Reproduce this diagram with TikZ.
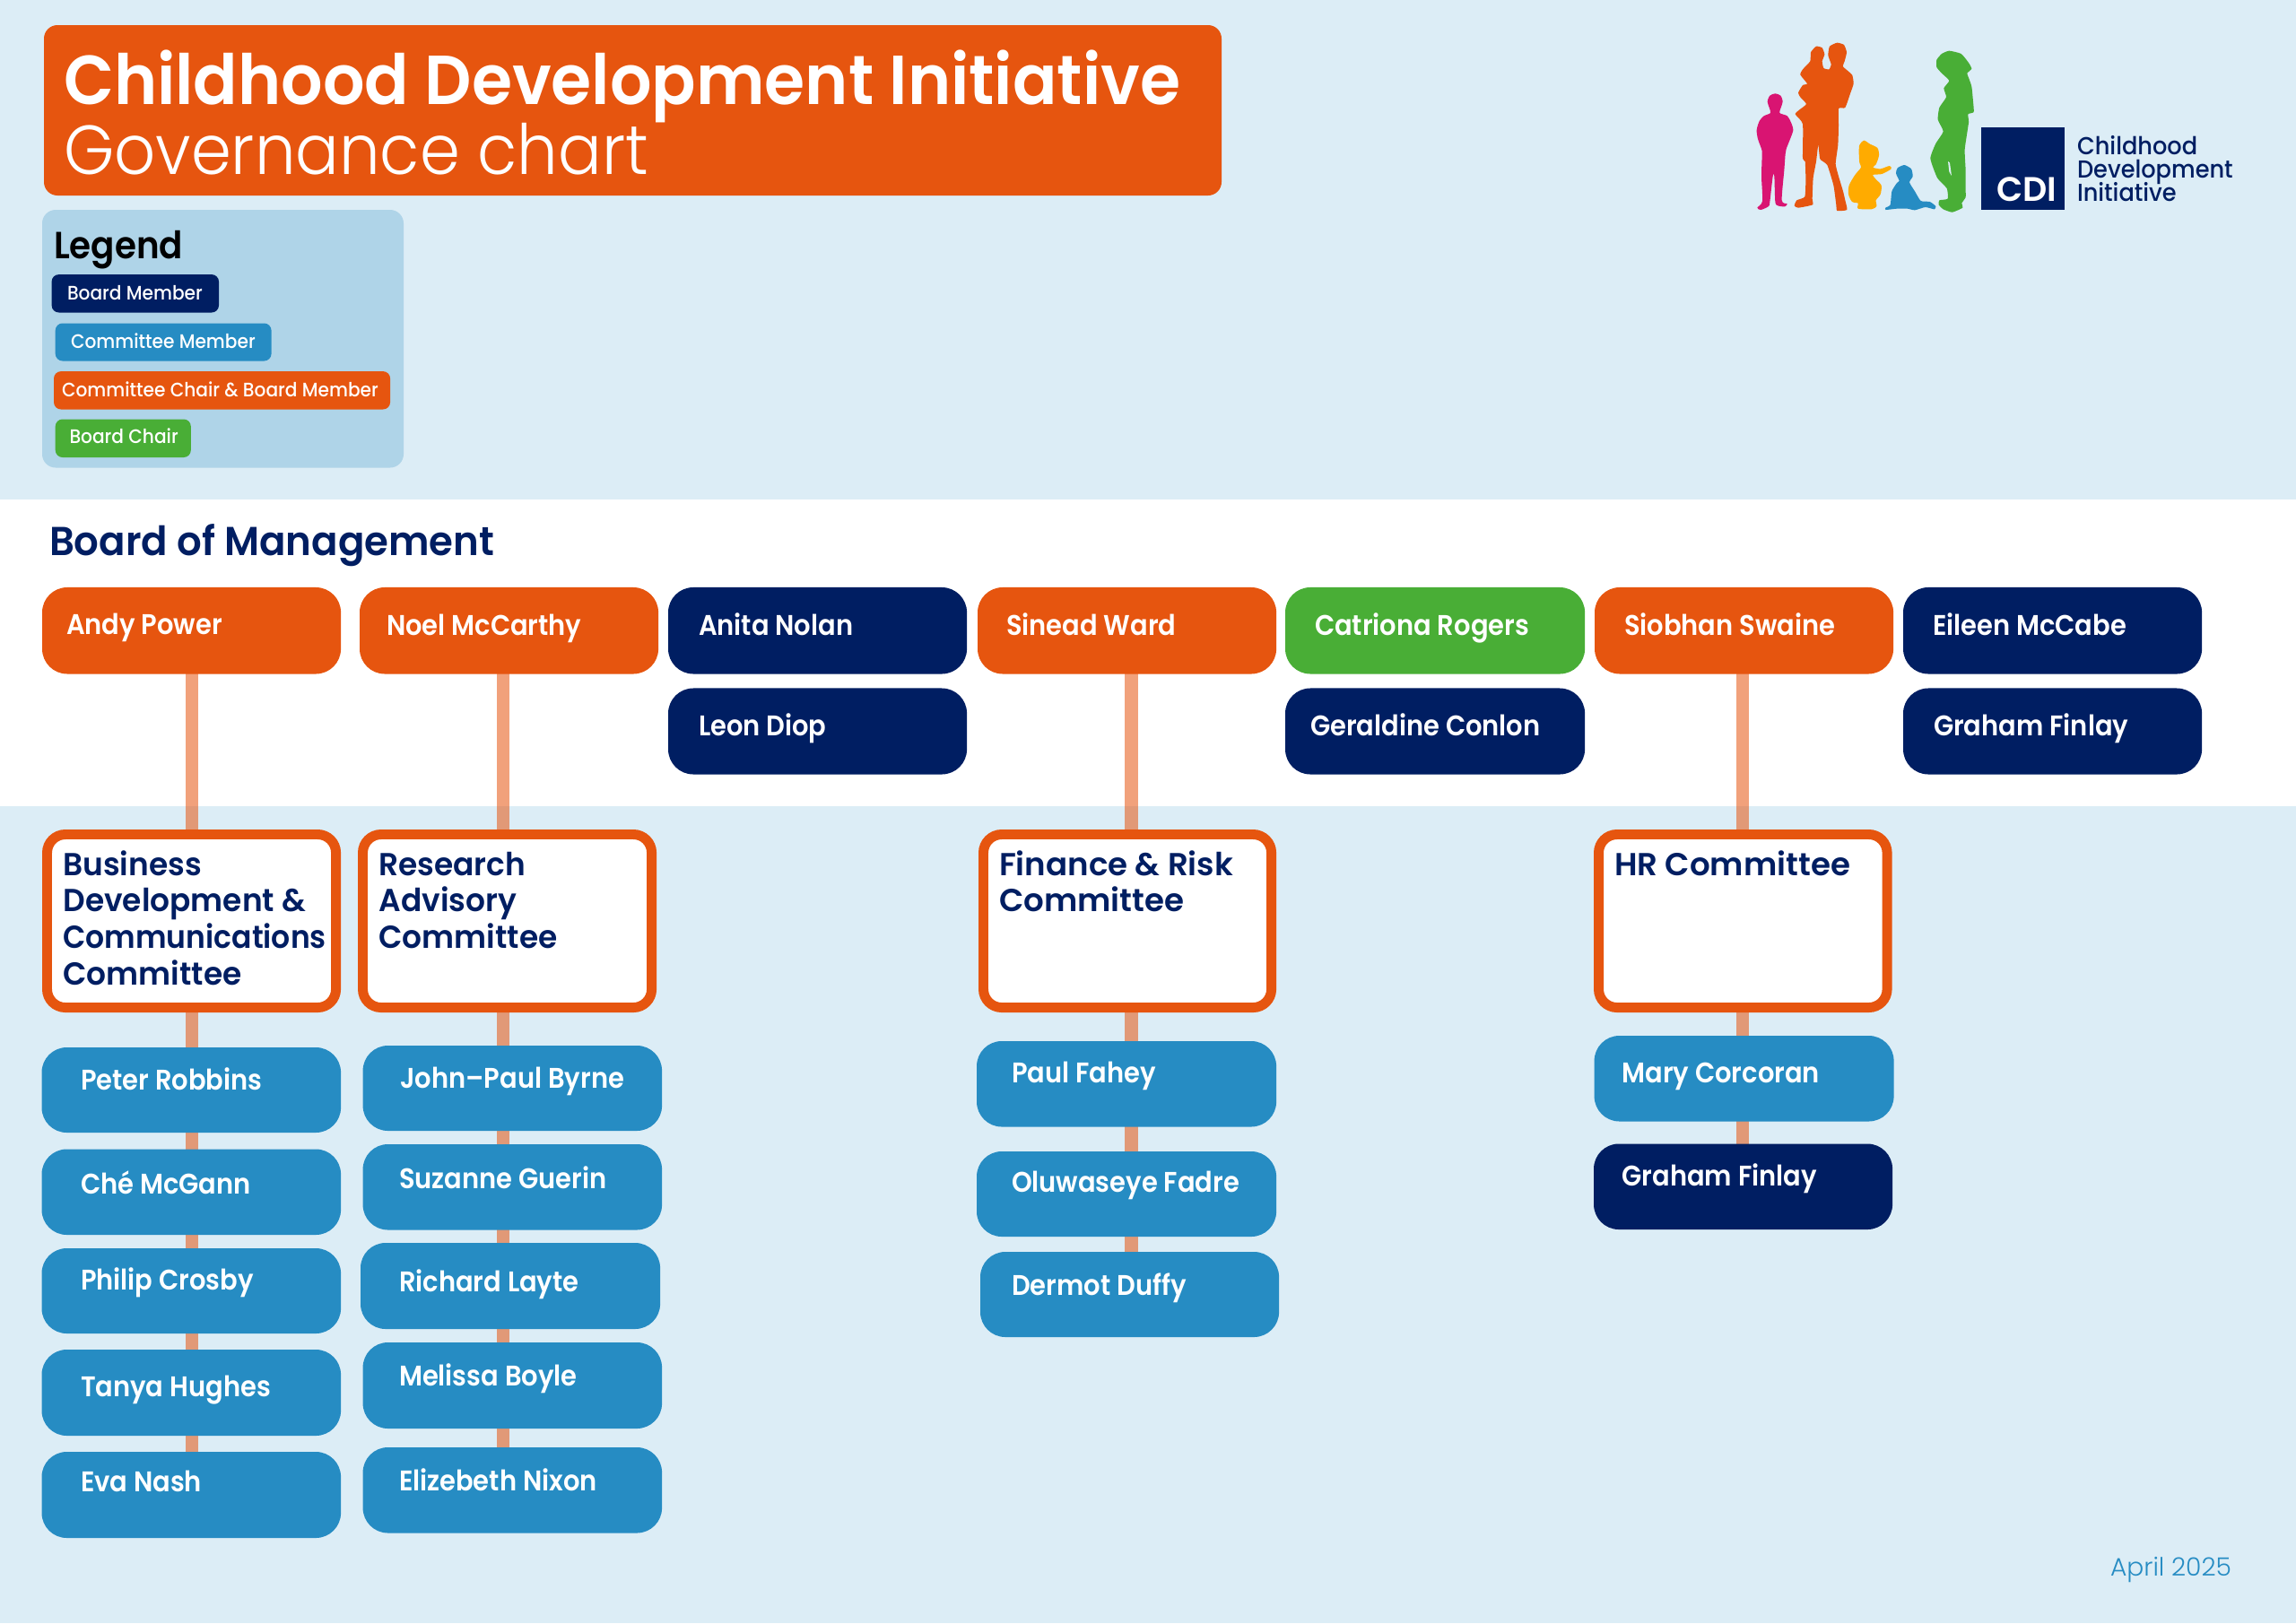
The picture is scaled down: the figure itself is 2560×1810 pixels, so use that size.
\documentclass[tikz,border=0pt]{standalone}
\usepackage{graphicx}
\usepackage{fontspec}
\setmainfont{Poppins}
\newfontfamily\fname{Poppins SemiBold}[FakeStretch=0.915]
\newfontfamily\fpill{Poppins Medium}[FakeStretch=0.925]
\newfontfamily\fcom{Poppins SemiBold}[FakeStretch=0.97]
\newfontfamily\fcomw{Poppins SemiBold}[FakeStretch=1.005]
\newfontfamily\ftitle{Poppins SemiBold}[FakeStretch=0.944]
\newfontfamily\fsub{Poppins Light}[FakeStretch=0.932]
\newfontfamily\fleg{Poppins SemiBold}[FakeStretch=0.92]
\newfontfamily\fhead{Poppins SemiBold}[FakeStretch=0.965]
\newfontfamily\flogo{Poppins Medium}[FakeStretch=0.935]
\newfontfamily\fcdi{Poppins SemiBold}
\newfontfamily\flight{Poppins Light}
\definecolor{bgblue}{HTML}{DCEDF6}
\definecolor{panel}{HTML}{AFD4E8}
\definecolor{cdiorange}{HTML}{E6550F}
\definecolor{cdinavy}{HTML}{001E62}
\definecolor{cdiblue}{HTML}{268CC3}
\definecolor{cdigreen}{HTML}{49AE36}
\definecolor{cdiyellow}{HTML}{FFAB00}
\definecolor{cdipink}{HTML}{D91472}
\pgfdeclarelayer{back}
\pgfsetlayers{back,main}
\tikzset{
  box/.style={rectangle,rounded corners=19.9pt,inner sep=0pt,outer sep=0pt,anchor=base west,text=white,align=left},
  navybox/.style={box,fill=cdinavy},
  bluebox/.style={box,fill=cdiblue},
  orangebox/.style={box,fill=cdiorange},
  greenbox/.style={box,fill=cdigreen},
  pill/.style={rounded corners=5.7pt},
  committee/.style={box,fill=white,draw=cdiorange,line width=7.8pt,rounded corners=14.5pt,text=cdinavy},
  link/.style={draw=cdiorange,opacity=.55,line width=10.2pt},
  free/.style={inner sep=0pt,outer sep=0pt,anchor=base west},
}
% style, name, x0, y0, x1, y1, text x, baseline, font, text
\newcommand{\yo}{0}
\newcommand{\bx}[9]{%
  \pgfmathsetlengthmacro\bxh{(#8-#4)*0.71132pt}%
  \pgfmathsetlengthmacro\bxd{(#6-#8)*0.71132pt}%
  \pgfmathsetlengthmacro\bxw{(#5-#3)*0.71132pt}%
  \pgfmathsetlengthmacro\bxp{(#7-#3)*0.71132pt}%
  \pgfmathsetmacro\bxy{#8+\yo}%
  \bxfin{#1}{#2}{#3}{\bxy}#9}
\newcommand{\bxfin}[6]{%
  \node[#1,text height=\bxh,text depth=\bxd] (#2) at (#3,#4) {\makebox[\bxw][l]{\hspace*{\bxp}#5#6}};}
\newcommand{\namef}{\fontsize{22.5}{22.5}\fname}
\newcommand{\pillf}{\fontsize{15.5}{15.5}\fpill}
\newcommand{\comf}{\fontsize{25.2}{28.9}\fcom}
\newcommand{\comwf}{\fontsize{25.2}{28.9}\fcomw}
\newcommand{\lines}[1]{\vtop{\hsize=300pt\baselineskip=28.95pt\lineskip=0pt\lineskiplimit=-100pt\parindent=0pt #1}}
\begin{document}
\begin{tikzpicture}[x=0.025cm,y=-0.025cm]
\useasboundingbox (0,0) rectangle (2560,1810);
\begin{pgfonlayer}{back}
\fill[bgblue] (0,0) rectangle (2560,1810);
\fill[white] (0,557) rectangle (2560,899);
\end{pgfonlayer}
% title
\fill[cdiorange,rounded corners=10.7pt] (49,28) rectangle (1362,218);
\node[free,text=white,font=\fontsize{55}{55}\ftitle] (title1) at (71,116.5) {Childhood Development Initiative};
\node[free,text=white,font=\fontsize{55}{55}\fsub] (title2) at (71,194) {Governance chart};
% legend
\fill[panel,rounded corners=10.7pt] (47,234) rectangle (450,521.5);
\node[free,text=black,font=\fontsize{30}{30}\fleg] (legend) at (60,288) {Legend};
\renewcommand{\yo}{-1.5}
\bx{navybox,pill}{lgA}{57.6}{307.6}{244}{350}{75}{335.6}{\pillf}{Board Member}
\bx{bluebox,pill}{lgB}{61.7}{362}{302.5}{404}{79}{390}{\pillf}{Committee Member}
\bx{orangebox,pill}{lgC}{60}{415.6}{435}{458}{69}{444.4}{\pillf}{Committee Chair \& Board Member}
\bx{greenbox,pill}{lgD}{61.7}{469}{212.8}{511.5}{77.5}{496}{\pillf}{Board Chair}
\renewcommand{\yo}{0}
% heading
\node[free,text=cdinavy,font=\fontsize{32}{32}\fhead] (board) at (55,619) {Board of Management};
% board row
\bx{orangebox}{andy}{47}{655}{380}{751.5}{74}{707}{\namef}{Andy Power}
\bx{orangebox}{noel}{401}{655}{734}{751.5}{431}{708.5}{\namef}{Noel McCarthy}
\bx{navybox}{anita}{745}{655}{1078}{751.5}{779}{708.5}{\namef}{Anita Nolan}
\bx{orangebox}{sinead}{1090}{655}{1423}{751.5}{1122}{708.5}{\namef}{Sinead Ward}
\bx{greenbox}{catriona}{1433}{655}{1767}{751.5}{1466}{708.5}{\namef}{Catriona Rogers}
\bx{orangebox}{siobhan}{1778}{655}{2111}{751.5}{1811}{708.5}{\namef}{Siobhan Swaine}
\bx{navybox}{eileen}{2122}{655}{2455}{751.5}{2155}{708.5}{\namef}{Eileen McCabe}
\bx{navybox}{leon}{745}{767.5}{1078}{863.5}{779}{820.5}{\namef}{Leon Diop}
\bx{navybox}{geraldine}{1433}{767.5}{1767}{863.5}{1461}{820.5}{\namef}{Geraldine Conlon}
\bx{navybox}{grahamA}{2122}{767.5}{2455}{863.5}{2156}{820.5}{\namef}{Graham Finlay}
% committees
\bx{committee}{bdc}{52.5}{930.5}{374.5}{1123.5}{70.4}{976}{\comf}{\lines{\hbox{Business}\hbox{Development \&}\hbox{\scalebox{0.96}[1]{Communications}}\hbox{Committee}}}
\bx{committee}{rac}{404.5}{930.5}{726.5}{1123.5}{422.5}{976}{\comf}{\lines{\hbox{Research}\hbox{Advisory}\hbox{Committee}}}
\bx{committee}{frc}{1096.5}{930.5}{1417.5}{1123.5}{1114}{976}{\comwf}{\lines{\hbox{Finance \& Risk}\hbox{Committee}}}
\bx{committee}{hrc}{1782.5}{930.5}{2104}{1123.5}{1800}{976}{\comwf}{\lines{\hbox{HR Committee}}}
\renewcommand{\yo}{1}
% members col 1
\bx{bluebox}{peter}{46.5}{1167}{380}{1262}{90}{1214}{\namef}{Peter Robbins}
\bx{bluebox}{che}{46.5}{1280.5}{380}{1376}{90}{1330}{\namef}{Ché McGann}
\bx{bluebox}{philip}{46.5}{1391}{380}{1486}{90}{1437}{\namef}{Philip Crosby}
\bx{bluebox}{tanya}{46.5}{1504}{380}{1600}{90}{1556}{\namef}{Tanya Hughes}
\bx{bluebox}{eva}{46.5}{1618}{380}{1714}{90}{1662.6}{\namef}{Eva Nash}
% members col 2
\bx{bluebox}{john}{404.6}{1165}{738}{1260}{446.4}{1212}{\namef}{John–Paul Byrne}
\bx{bluebox}{suzanne}{404.6}{1275}{738}{1370.5}{445}{1324}{\namef}{Suzanne Guerin}
\bx{bluebox}{richard}{402}{1385}{736}{1481}{445}{1439}{\namef}{Richard Layte}
\bx{bluebox}{melissa}{404.6}{1496}{738}{1592}{445}{1544}{\namef}{Melissa Boyle}
\bx{bluebox}{elizebeth}{404.6}{1613}{738}{1708.5}{445}{1661}{\namef}{Elizebeth Nixon}
% members col 4
\bx{bluebox}{paul}{1089}{1160}{1423}{1255.5}{1128}{1206}{\namef}{Paul Fahey}
\bx{bluebox}{oluwaseye}{1089}{1283}{1423}{1378}{1128}{1328.6}{\namef}{Oluwaseye Fadre}
\bx{bluebox}{dermot}{1093}{1395}{1426}{1490}{1128}{1443}{\namef}{Dermot Duffy}
% members col 6
\bx{bluebox}{mary}{1777.6}{1154}{2111.5}{1249.5}{1808.5}{1206}{\namef}{Mary Corcoran}
\bx{navybox}{grahamB}{1777}{1274.5}{2110}{1370}{1808.5}{1321}{\namef}{Graham Finlay}
% connectors
\coordinate (s1) at (214,0);
\coordinate (s2) at (561,0);
\coordinate (s4) at (1261.5,0);
\coordinate (s6) at (1943,0);
\begin{pgfonlayer}{back}
\foreach \s/\a/\b in {s1/andy/bdc,s1/bdc/peter,s1/peter/che,s1/che/philip,s1/philip/tanya,s1/tanya/eva,
  s2/noel/rac,s2/rac/john,s2/john/suzanne,s2/suzanne/richard,s2/richard/melissa,s2/melissa/elizebeth,
  s4/sinead/frc,s4/frc/paul,s4/paul/oluwaseye,s4/oluwaseye/dermot,
  s6/siobhan/hrc,s6/hrc/mary,s6/mary/grahamB}
  \draw[link] (\s |- \a.center) -- (\s |- \b.center);
\end{pgfonlayer}
% date
\node[free,text=cdiblue,font=\fontsize{20}{20}\flight] (date) at (2353,1757) {April 2025};
% logo
\node[rectangle,fill=cdinavy,minimum width=66.2pt,minimum height=65.7pt,inner sep=0pt,outer sep=0pt] (cdisq) at (2255.5,188) {};
\node[free,text=white,font=\fontsize{27}{27}\fcdi] (cdi) at (2226.5,224) {CDI};
\node[free,text=cdinavy,font=\fontsize{19.5}{19.5}\flogo] (l1) at (2316,172.5) {Childhood};
\node[free,text=cdinavy,font=\fontsize{19.5}{19.5}\flogo] (l2) at (2316,198.5) {Development};
\node[free,text=cdinavy,font=\fontsize{19.5}{19.5}\flogo] (l3) at (2316,224) {Initiative};
\begin{scope}[shift={(1950,40)},x=0.008333cm,y=-0.008333cm]
\fill[cdipink] plot[smooth cycle,tension=0.45] coordinates {(88,193)(106,200)(113,220)(107,240)(103,258)(128,268)(141,290)(148,315)(138,345)(125,378)(122,395)(118,450)(110,550)(128,562)(120,571)(97,568)(88,555)(85,470)(80,470)(70,555)(66,570)(40,582)(28,575)(45,553)(42,470)(44,395)(42,378)(30,345)(26,315)(35,285)(50,268)(72,258)(68,240)(62,220)(70,200)};
\fill[cdiorange] plot[smooth cycle,tension=0.3] coordinates {(295,23)(318,30)(327,55)(320,85)(315,103)(345,130)(350,160)(340,190)(322,240)(300,243)(300,300)(298,365)(290,428)(300,470)(315,520)(322,550)(328,582)(295,585)(292,565)(283,500)(262,432)(238,412)(232,365)(225,420)(215,475)(212,545)(213,565)(165,575)(152,568)(160,550)(187,538)(190,480)(188,420)(180,410)(180,295)(155,262)(168,248)(192,228)(172,205)(165,190)(180,165)(195,160)(172,130)(180,112)(205,85)(207,55)(225,35)(245,40)(253,62)(245,85)(250,108)(268,112)(275,95)(265,65)(270,35)};
\fill[cdiyellow] plot[smooth cycle,tension=0.45] coordinates {(385,350)(405,362)(430,375)(435,400)(425,430)(415,440)(440,445)(470,435)(476,445)(445,462)(415,465)(425,480)(443,500)(440,530)(425,550)(427,570)(410,580)(365,578)(365,560)(345,555)(333,530)(335,500)(355,465)(375,440)(370,425)(368,390)(370,365)};
\fill[cdiblue] plot[smooth cycle,tension=0.35] coordinates {(520,432)(543,445)(548,470)(537,490)(555,520)(575,552)(605,555)(625,570)(620,580)(590,573)(555,583)(530,578)(495,578)(458,582)(457,575)(473,565)(478,520)(495,492)(503,485)(492,460)(497,442)};
\fill[cdigreen] plot[smooth cycle,tension=0.3] coordinates {(670,50)(710,60)(735,90)(745,110)(730,125)(735,140)(745,170)(750,220)(752,255)(733,262)(735,290)(722,380)(725,450)(725,520)(725,540)(712,560)(715,575)(680,590)(650,580)(635,565)(637,550)(665,545)(662,510)(630,475)(607,410)(625,360)(650,320)(632,280)(637,240)(660,205)(652,175)(670,150)(645,125)(628,105)(628,80)(645,60)};
\fill[bgblue] (666,420) -- (672,425) -- (678,468) -- (670,455) -- cycle;
\end{scope}
\end{tikzpicture}
\end{document}
